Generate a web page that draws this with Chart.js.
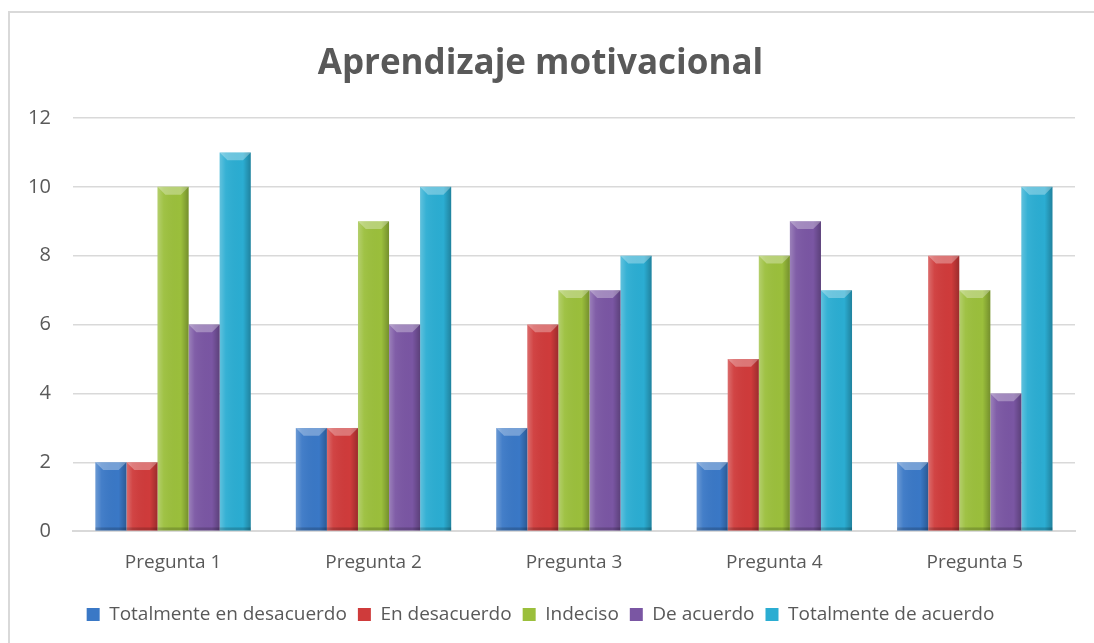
<!DOCTYPE html>
<html>
<head>
<meta charset="utf-8">
<script src="https://cdn.jsdelivr.net/npm/chart.js@4"></script>
<style>
  html, body { margin: 0; padding: 0; background: #fff; }
  #frame { position: absolute; left: 8px; top: 11px; width: 1200px; height: 700px; border: 2px solid #d9d9d9; box-sizing: border-box; }
  #wrap { position: absolute; left: 0; top: 0; width: 1094px; height: 643px; }
</style>
</head>
<body>
<div id="frame"></div>
<div id="wrap"><canvas id="chart" width="1094" height="643"></canvas></div>
<script>
const categories = ['Pregunta 1', 'Pregunta 2', 'Pregunta 3', 'Pregunta 4', 'Pregunta 5'];
const seriesNames = ['Totalmente en desacuerdo', 'En desacuerdo', 'Indeciso', 'De acuerdo', 'Totalmente de acuerdo'];
const totalDesacuerdo = [2, 3, 3, 2, 2];
const enDesacuerdo = [2, 3, 6, 5, 8];
const indeciso = [10, 9, 7, 8, 7];
const deAcuerdo = [6, 6, 7, 9, 4];
const totalAcuerdo = [11, 10, 8, 7, 10];
const colors = ['#3a78c6', '#cf3b3b', '#9bbf3c', '#7a56a3', '#2badd2'];

const values = [totalDesacuerdo, enDesacuerdo, indeciso, deAcuerdo, totalAcuerdo];

// bevel look on each bar, drawn over the library's own bar rectangles
const bevel = {
  id: 'bevel',
  afterDatasetsDraw(chart) {
    const ctx = chart.ctx;
    chart.data.datasets.forEach((ds, i) => {
      chart.getDatasetMeta(i).data.forEach(bar => {
        const w = bar.width, left = bar.x - w / 2, right = bar.x + w / 2;
        const top = bar.y, bottom = bar.base, b = Math.min(8, w / 4);
        ctx.save();
        const g = ctx.createLinearGradient(left, 0, right, 0);
        g.addColorStop(0, 'rgba(255,255,255,0.25)');
        g.addColorStop(0.2, 'rgba(255,255,255,0.05)');
        g.addColorStop(0.75, 'rgba(0,0,0,0.0)');
        g.addColorStop(1, 'rgba(0,0,0,0.25)');
        ctx.fillStyle = g;
        ctx.fillRect(left, top, w, bottom - top);
        ctx.beginPath();
        ctx.moveTo(left, top); ctx.lineTo(right, top);
        ctx.lineTo(right - b, top + b); ctx.lineTo(left + b, top + b);
        ctx.closePath();
        ctx.fillStyle = 'rgba(255,255,255,0.3)';
        ctx.fill();
        ctx.fillStyle = 'rgba(0,0,0,0.18)';
        ctx.fillRect(left, bottom - 3, w, 3);
        ctx.restore();
      });
    });
  }
};

new Chart(document.getElementById('chart'), {
  type: 'bar',
  data: {
    labels: categories,
    datasets: seriesNames.map((name, i) => ({
      label: name,
      data: values[i],
      backgroundColor: colors[i],
      borderWidth: 0,
      barPercentage: 1,
      categoryPercentage: 0.775
    }))
  },
  options: {
    responsive: false,
    animation: false,
    layout: { padding: { left: 6, right: 19, top: 22, bottom: 9 } },
    plugins: {
      title: {
        display: true,
        text: 'Aprendizaje motivacional',
        color: '#595959',
        font: { family: 'Open Sans', size: 35, weight: 'bold' },
        padding: { top: 21, bottom: 33 }
      },
      legend: {
        position: 'bottom',
        labels: {
          color: '#595959',
          font: { family: 'Open Sans', size: 19 },
          boxWidth: 13,
          boxHeight: 13,
          padding: 11
        }
      },
      tooltip: { enabled: false }
    },
    scales: {
      x: {
        grid: { display: false, drawTicks: false },
        border: { color: '#d9d9d9', width: 2 },
        ticks: { color: '#595959', font: { family: 'Open Sans', size: 19 }, padding: 20 }
      },
      y: {
        min: 0, max: 12,
        ticks: { stepSize: 2, color: '#595959', font: { family: 'Open Sans', size: 20 }, padding: 22 },
        grid: { color: '#d9d9d9', lineWidth: 1.5, drawTicks: false },
        border: { display: false }
      }
    }
  },
  plugins: [bevel]
});
</script>
</body>
</html>
